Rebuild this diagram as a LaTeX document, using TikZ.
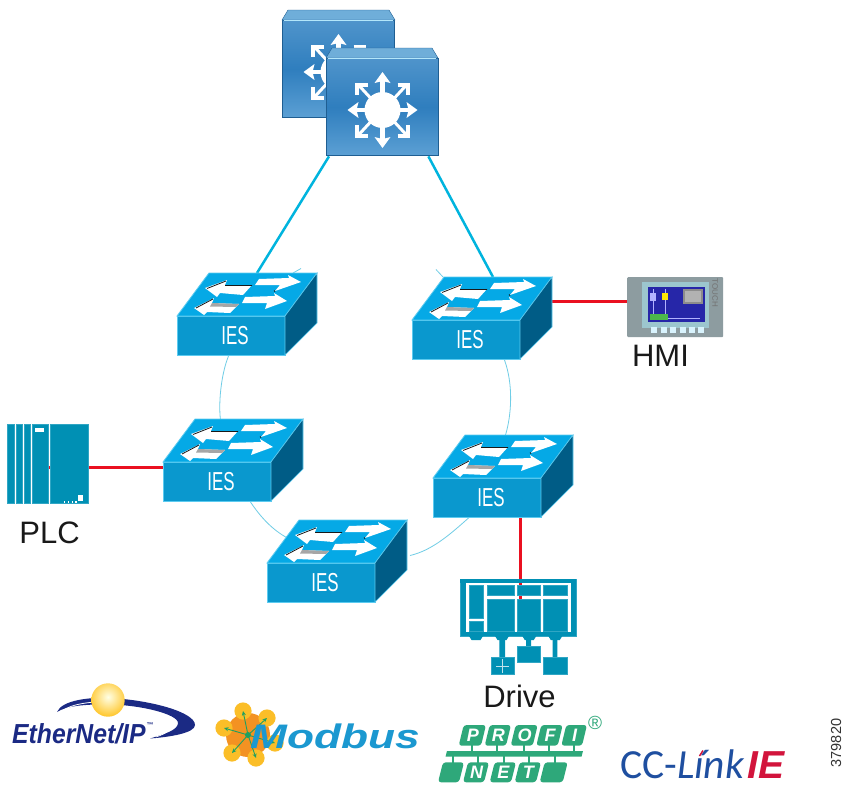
\documentclass[tikz,border=0pt]{standalone}
\usepackage{fontspec}
\usepackage{graphicx}
\setmainfont{Liberation Sans}
\newfontfamily\ccfont{Carlito}
\usetikzlibrary{backgrounds,arrows.meta,calc}
\newcommand{\fsz}[1]{\fontsize{#1}{#1}\selectfont}
\definecolor{iesfront}{HTML}{0A98CE}
\definecolor{iestop}{HTML}{05A9E6}
\definecolor{iesedge}{HTML}{5CCBF0}
\definecolor{iesside}{HTML}{005C86}
\definecolor{teal}{HTML}{0090B4}
\definecolor{tealedge}{HTML}{30A6C4}
\definecolor{uplink}{HTML}{00B4DE}
\definecolor{ringc}{HTML}{70CDE6}
\definecolor{wire}{HTML}{EA1020}
\definecolor{navy}{HTML}{1B2A84}
\definecolor{pgreen}{HTML}{2EA87A}
\definecolor{ccblue}{HTML}{1F4FA0}
\definecolor{ccred}{HTML}{D2143C}
\definecolor{chassis}{HTML}{1F5E92}
\definecolor{coretop}{HTML}{4F94CB}
\definecolor{coremid}{HTML}{2F7EBE}
\definecolor{corebot}{HTML}{5CA0D4}
\definecolor{corestrip}{HTML}{6FAED9}
\definecolor{hmigrey}{HTML}{8D9CA0}
\definecolor{hmipanel}{HTML}{9CC6CE}
\definecolor{mbblue}{HTML}{1B98D0}
\definecolor{mborange}{HTML}{F39222}
\definecolor{mbyellow}{HTML}{FBBE28}
\definecolor{mbgreen}{HTML}{1FA060}
\tikzset{
 x=1pt,y=-1pt,
 iesface/.style={rectangle,draw=iesedge,line width=1pt,fill=iesfront,minimum width=108pt,minimum height=39pt,inner sep=0pt,anchor=north west},
 ieslabel/.style={text=white,inner sep=0pt},
 toplink/.style={draw=uplink,line width=2.5pt},
 ringlink/.style={draw=ringc,line width=.8pt},
 redlink/.style={draw=wire,line width=2.8pt},
 caption/.style={inner sep=0pt,text=black!90,font=\fsz{31}},
 corebox/.style={rectangle,draw=chassis,line width=1.4pt,minimum width=112pt,minimum height=97pt,inner sep=0pt,anchor=north west,top color=coretop,bottom color=corebot,middle color=coremid},
 tealfill/.style={fill=teal,draw=tealedge,line width=.3pt},
 pbox/.style={rounded corners=3pt,fill=pgreen},
 pletter/.style={inner sep=0pt,text=white,font=\fsz{18}\bfseries\itshape},
}
\newcommand{\iesswitch}[3]{%
 \begin{scope}[shift={(#2,#3)}]
  \node[iesface] (#1) at (0,0) {};
  \node[ieslabel] (#1-l) at (58,20) {\fsz{26}\scalebox{.65}[1]{IES}};
  \coordinate (#1-t) at (86,-43);
  \fill[iestop,draw=iesedge,line width=.8pt] (0,0) -- (32,-43) -- (140,-43) -- (108,0) -- cycle;
  \fill[iesside,draw=iesedge,line width=.6pt] (108,0) -- (140,-43) -- (140,7) -- (108,39) -- cycle;
  \fill[white] (28,-28) -- (50,-36) -- (48,-31) -- (75,-31) -- (66,-21) -- (43,-23) -- (40,-19) -- cycle;
  \fill[white] (124,-34) -- (111,-41) -- (112,-38) -- (82,-37) -- (78,-31) -- (103,-31) -- (98,-25) -- cycle;
  \fill[white] (17,-8) -- (37,-18) -- (35,-13) -- (62,-12) -- (53,-3) -- (30,-4) -- (27,-1) -- cycle;
  \fill[white] (110,-15) -- (97,-23) -- (98,-20) -- (68,-19) -- (65,-13) -- (90,-13) -- (88,-7) -- cycle;
  \draw[black!90,line width=.8pt] (30,-27.5) -- (49,-35) (48,-30.5) -- (75,-30.5) (19,-8) -- (36,-17) (98,-24.5) -- (97,-25.5);
  \fill[black!35] (35,-13) -- (62,-12) -- (59,-9) -- (33,-9.5) -- cycle;
 \end{scope}}
\newcommand{\corehub}[2]{%
 \begin{scope}[shift={(#1,#2)}]
  \fill[white] (0,0) circle (18);
  \foreach \a/\r in {90/38,270/38,0/35,180/35}{
   \begin{scope}[rotate=\a]
    \fill[white] (15,-2.2) rectangle (\r-8,2.2);
    \fill[white] (\r,0) -- (\r-11,-8) -- (\r-9,0) -- (\r-11,8) -- cycle;
   \end{scope}}
  \foreach \sx/\sy in {1/1,1/-1,-1/1,-1/-1}{
   \begin{scope}[xscale=\sx,yscale=\sy]
    \draw[white,line width=3pt] (12,12) -- (24,25);
    \draw[white,line width=4pt] (15,25.5) -- (25.5,25.5) -- (25.5,15);
   \end{scope}}
 \end{scope}}
\begin{document}
\begin{tikzpicture}
\useasboundingbox (0,0) rectangle (846,790);
% ---- core pair
\node[corebox] (coreb) at (282,20) {};
\fill[corestrip,draw=chassis] (282,20) -- (288,10) -- (389,10) -- (395,20) -- cycle;
\draw[white!70!cyan,line width=.8pt] (284,20.5) -- (393,20.5);
\corehub{338.5}{72}
\node[corebox] (core) at (326,58) {};
\fill[corestrip,draw=chassis] (326,58) -- (332,48) -- (432,48) -- (438,58) -- cycle;
\draw[white!70!cyan,line width=.8pt] (328,58.5) -- (436,58.5);
\corehub{382.5}{110}
% ---- switches
\iesswitch{s1}{177}{316}
\iesswitch{s2}{412}{320}
\iesswitch{s3}{163}{462}
\iesswitch{s4}{433}{478}
\iesswitch{s5}{267}{563}
% ---- PLC
\foreach \xa/\xb in {7/14.3,15.7/22,23.7/30}{\fill[tealfill] (\xa,424) rectangle (\xb,503);}
\node[rectangle,tealfill,minimum width=15.7pt,minimum height=79pt,inner sep=0pt,anchor=north west] (plcl) at (32,424) {};
\node[rectangle,tealfill,minimum width=38pt,minimum height=79pt,inner sep=0pt,anchor=north west] (plc) at (50,424) {};
\fill[white] (34.5,427.5) rectangle (44,432);
\fill[white] (78,495) rectangle (83,501);
\foreach \x in {63.5,67.5,71.5,75}{\fill[white] (\x,501) rectangle +(1.8,2);}
\node[caption] (plcc) at (49.5,533) {PLC};
% ---- HMI
\node[rectangle,rounded corners=1pt,fill=hmigrey,minimum width=96pt,minimum height=60pt,inner sep=0pt,anchor=north west] (hmi) at (627,277) {};
\fill[hmipanel] (642,282) rectangle (709,328);
\fill[blue!60!black!85] (648,287) rectangle (705,322);
\fill[black!45] (683,288.5) rectangle (703,304);
\fill[black!30] (685,291) rectangle (701,302);
\fill[white!70!blue] (650,293) rectangle (656,301);
\fill[yellow!90!orange] (662,293) rectangle (668,300);
\draw[white!70!blue,line width=.7pt] (653,289) -- (653,293) (653,301) -- (653,314) (665,289) -- (665,293) (665,300) -- (665,314) (668,318) -- (700,318);
\fill[green!60!black!70!white] (650,314) rectangle (668,320);
\foreach \x in {651,660.5,670,679.5,689,698}{\fill[white!85!cyan] (\x,327) rectangle +(6,6);}
\node[inner sep=0pt,rotate=-90,text=black!55,font=\fsz{8}] (touch) at (715,293) {TOUCH};
\node[caption] (hmic) at (660.5,356) {HMI};
% ---- Drive
\node[rectangle,fill=teal,draw=tealedge,line width=.4pt,minimum width=116pt,minimum height=57pt,inner sep=0pt,anchor=north west] (drive) at (460,579) {};
\fill[white] (465.7,583.3) rectangle (570.7,631.7);
\draw[redlink] (drive.north |- s4.south) ++(2pt,0) -- ++(0,81);
\fill[teal] (460.2,579.2) rectangle (575.8,583.3);
\fill[tealfill] (469,585.3) rectangle (482.7,617.7);
\fill[tealfill] (469,620.7) rectangle (482.7,631);
\foreach \xa/\xb in {487.3/514,517.3/540,543.3/566.7}{
 \fill[tealfill] (\xa,585.3) rectangle (\xb,595);
 \fill[tealfill] (\xa,599) rectangle (\xb,631);}
\foreach \xa in {469,495,522.3,548.3}{\fill[teal] (\xa,636) -- (\xa+14,636) -- (\xa+11.5,640) -- (\xa+2.5,640) -- cycle;}
\fill[teal] (499.3,640) rectangle (505,658) (526,640) rectangle (531,647) (552.7,640) rectangle (557.3,658);
\fill[tealfill] (490.7,657.3) rectangle (514,674.3);
\fill[tealfill] (516.7,646) rectangle (540,662.3);
\fill[tealfill] (542.7,657.3) rectangle (566.7,674.3);
\draw[white!75!teal,line width=.4pt] (496,666) -- (509,666) (502.5,659) -- (502.5,673);
\node[caption] (drivec) at (519.5,696) {Drive};
% ---- connectors (behind everything)
\coordinate (stubl) at (301,268.5);
\coordinate (stubr) at (436,269.5);
\coordinate (hmiport) at ([yshift=6pt]hmi.west);
\coordinate (plcport) at ([xshift=-3pt,yshift=-3.5pt]plc.west);
\begin{pgfonlayer}{background}
 \fill[white] (0,0) rectangle (846,790);
 \draw[toplink] ([xshift=3pt]core.south west) -- ([xshift=-6pt]s1-t);
 \draw[toplink] ([xshift=-11pt]core.south east) -- ([xshift=-5pt]s2-t);
 \draw[ringlink] (stubl) -- ([xshift=30pt]s1-t);
 \draw[ringlink] (stubr) -- ([xshift=-55pt]s2-t);
 \draw[ringlink] ([xshift=-3pt]s1.south) .. controls +(-8,20) and +(-2,-15) .. ([xshift=3pt,yshift=42pt]s3.north);
 \draw[ringlink] ([xshift=33pt]s3.south) .. controls +(10,15) and +(-15,-8) .. ([xshift=-34pt,yshift=25pt]s5.north);
 \draw[ringlink] ([xshift=34pt,yshift=27.5pt]s5.east) .. controls +(22,-5) and +(-18,16) .. ([xshift=-19pt]s4.south);
 \draw[ringlink] ([xshift=18pt,yshift=43pt]s4.north) .. controls +(6,-20) and +(9,25) .. ([xshift=38pt]s2.south);
 \draw[redlink] (plcport) -- (plcport -| s3.west);
 \draw[redlink] (hmiport) -- (hmiport -| s2.east);
\end{pgfonlayer}
% ---- EtherNet/IP logo
\fill[navy] (57,712) .. controls (62,700) and (90,697) .. (110,698) .. controls (150,700) and (195,712) .. (195,725) .. controls (195,733) and (170,737) .. (150,738.5) .. controls (165,734) and (178,730) .. (178,723) .. controls (178,714) and (140,705) .. (110,704.5) .. controls (85,704) and (66,706) .. (57,712) -- cycle;
\draw[white,line width=.8pt] (62,711) .. controls (72,703.5) and (92,701.5) .. (110,701.5);
\draw[white,line width=.6pt] (168,726) .. controls (172,730) and (165,734) .. (156,737);
\shade[inner color=yellow!12!white,outer color=orange!60!yellow!90!white] (108,697) circle (0pt);
\begin{scope}
 \clip (108,700) circle (16.7);
 \shade[inner color=yellow!10!white,outer color=orange!55!yellow] (108,697) circle (24);
\end{scope}
\node[inner sep=0pt,anchor=base west,text=navy] (ethernet) at (12,743) {\fsz{27.5}\bfseries\itshape\scalebox{.9}[1]{EtherNet/IP}};
\node[inner sep=0pt,text=navy,font=\fsz{7}\bfseries] (tm) at (150,725) {™};
% ---- Modbus logo
\fill[mborange] (248,735) circle (22);
\foreach \x/\y in {243/711,267/718,224/728,232/753,256/758,275/743}{
 \fill[mbyellow] (\x,\y) circle (8.6);
}
\foreach \x/\y in {243/711,267/718,224/728,232/753,256/758,275/743}{
 \draw[mbgreen,line width=.9pt,-{Stealth[length=4.5pt,width=4pt]}] (248,735) -- (\x,\y);}
\fill[mbgreen] (248,735) circle (3);
\node[inner sep=0pt,anchor=base west,text=mbblue] (modbus) at (250,748) {\fsz{34}\bfseries\itshape\scalebox{1.3}[1]{Modbus}};
% ---- PROFINET logo
\foreach \xa/\xb/\L in {460.7/485/P,486.7/510/R,512.7/536.7/O,538.3/561.7/F,563.3/586/I}{
 \fill[pbox] (\xa+3,725) -- (\xb+1,725) -- (\xb-4,745.7) -- (\xa-2,745.7) -- cycle;
 \node[pletter] at ({(\xa+\xb)/2},735.5) {\L};
 \fill[pgreen] ({(\xa+\xb)/2-2},745) rectangle ({(\xa+\xb)/2},751);}
\fill[pgreen] (447,751) -- (583,751) -- (581.5,756.7) -- (445.5,756.7) -- cycle;
\foreach \xa/\xb/\L in {440/463/{},465/488/N,491.7/515/E,516.7/540/T,541.7/566.7/{}}{
 \fill[pbox] (\xa+3,762.3) -- (\xb+1,762.3) -- (\xb-4,782.3) -- (\xa-2,782.3) -- cycle;
 \node[pletter] at ({(\xa+\xb)/2},772.3) {\L};
 \fill[pgreen] ({(\xa+\xb)/2},756) rectangle ({(\xa+\xb)/2+2},763);}
\node[inner sep=0pt,text=pgreen,font=\fsz{19}] (reg) at (595,722.5) {®};
% ---- CC-Link IE logo
\node[inner sep=0pt,anchor=base west,text=ccblue] (cclink) at (620,778) {\ccfont\fsz{41.4}CC-\itshape Línk};
\draw[ccred,line width=1.5pt] (699.5,756) -- (703,750.5);
\node[inner sep=0pt,anchor=base west,text=ccred] (ie) at (747,778) {\fsz{39}\bfseries\itshape IE};
% ---- figure number
\node[inner sep=0pt,rotate=90,text=black!80,font=\fsz{14.5}] (fig) at (836,743) {379820};
\end{tikzpicture}
\end{document}
